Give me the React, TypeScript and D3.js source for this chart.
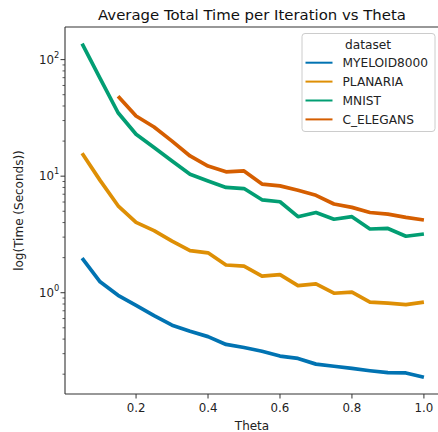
import React from "react";
import * as d3 from "d3";

const theta = [0.05, 0.1, 0.15, 0.2, 0.25, 0.3, 0.35, 0.4, 0.45, 0.5, 0.55, 0.6, 0.65, 0.7, 0.75, 0.8, 0.85, 0.9, 0.95, 1.0];
const myeloid = [1.98, 1.24, 0.95, 0.78, 0.635, 0.527, 0.467, 0.42, 0.36, 0.339, 0.315, 0.286, 0.273, 0.244, 0.234, 0.224, 0.214, 0.206, 0.205, 0.188];
const planaria = [15.7, 9.2, 5.57, 4.01, 3.41, 2.77, 2.3, 2.2, 1.73, 1.69, 1.39, 1.43, 1.15, 1.19, 0.99, 1.01, 0.83, 0.815, 0.79, 0.83];
const mnist = [137, 69, 35, 22.9, 17.6, 13.5, 10.4, 9.1, 8.0, 7.83, 6.27, 6.03, 4.49, 4.88, 4.27, 4.49, 3.52, 3.56, 3.05, 3.19];
const celegans = [null, null, 48.6, 32.8, 26.4, 20.0, 14.9, 12.2, 10.9, 11.1, 8.55, 8.26, 7.57, 6.85, 5.77, 5.4, 4.88, 4.73, 4.43, 4.21];
const seriesNames = ["MYELOID8000", "PLANARIA", "MNIST", "C_ELEGANS"];
const seriesColors = ["#0173b2", "#de8f05", "#029e73", "#d55e00"];
const xTicks = [0.2, 0.4, 0.6, 0.8, 1.0];
const yMajor = [1, 10, 100];

const W = 438, H = 432;
const L = 65, R = 441, T = 27, B = 394;
const FONT = "DejaVu Sans, sans-serif";

export default function App() {
  const all = [myeloid, planaria, mnist, celegans];
  const xmin = d3.min(theta)!, xmax = d3.max(theta)!;
  const xm = (xmax - xmin) * 0.05;
  const x = d3.scaleLinear().domain([xmin - xm, xmax + xm]).range([L, R]);
  const vals = all.flat().filter((v) => v != null) as number[];
  const lmin = Math.log10(d3.min(vals)!), lmax = Math.log10(d3.max(vals)!);
  const lm = (lmax - lmin) * 0.05;
  const y = d3.scaleLog().domain([10 ** (lmin - lm), 10 ** (lmax + lm)]).range([B, T]);
  const [d0, d1] = y.domain();
  const minor: number[] = [];
  for (let e = -2; e <= 3; e++) for (let k = 2; k <= 9; k++) {
    const v = k * 10 ** e;
    if (v >= d0 && v <= d1) minor.push(v);
  }
  const line = d3.line<[number, number | null]>()
    .defined((d) => d[1] != null)
    .x((d) => x(d[0]))
    .y((d) => y(d[1] as number));
  const ax = "#333";
  return (
    <svg width={W} height={H} style={{ position: "absolute", left: 0, top: 0 }} fontFamily={FONT}>
      <rect width={W} height={H} fill="white" />
      <text x={252} y={20} textAnchor="middle" fontSize={14.9} fill="#111">Average Total Time per Iteration vs Theta</text>
      {all.map((s, i) => (
        <path key={i} d={line(theta.map((t, j) => [t, s[j]] as [number, number | null])) || ""} fill="none" stroke={seriesColors[i]} strokeWidth={3.7} strokeLinejoin="round" strokeLinecap="butt" />
      ))}
      <line x1={L} x2={L} y1={T} y2={B} stroke={ax} strokeWidth={1.1} />
      <line x1={L} x2={R} y1={B} y2={B} stroke={ax} strokeWidth={1.1} />
      <line x1={L} x2={R} y1={T} y2={T} stroke={ax} strokeWidth={1.1} />
      <line x1={R} x2={R} y1={T} y2={B} stroke={ax} strokeWidth={1.1} />
      {xTicks.map((t) => (
        <g key={t}>
          <line x1={x(t)} x2={x(t)} y1={B} y2={B + 4.5} stroke={ax} strokeWidth={1} />
          <text x={x(t)} y={B + 18} textAnchor="middle" fontSize={11.8} fill="#222">{t.toFixed(1)}</text>
        </g>
      ))}
      {yMajor.map((t) => (
        <g key={t}>
          <line x1={L - 4.5} x2={L} y1={y(t)} y2={y(t)} stroke={ax} strokeWidth={1} />
          <text x={L - 11} y={y(t) + 4} textAnchor="end" fontSize={11.8} fill="#222">10</text>
          <text x={L - 11} y={y(t) - 2} textAnchor="start" fontSize={8.3} fill="#222">{Math.round(Math.log10(t))}</text>
        </g>
      ))}
      {minor.map((t) => (
        <line key={t} x1={L - 2.5} x2={L} y1={y(t)} y2={y(t)} stroke={ax} strokeWidth={0.8} />
      ))}
      <text x={252} y={430} textAnchor="middle" fontSize={12} fill="#222">Theta</text>
      <text transform={`translate(23,${(T + B) / 2}) rotate(-90)`} textAnchor="middle" fontSize={12} fill="#222">log(Time (Seconds))</text>
      <g>
        <rect x={302} y={33.5} width={133} height={98} rx={3} fill="white" fillOpacity={0.8} stroke="#ccc" strokeWidth={1} />
        <text x={368} y={48.5} textAnchor="middle" fontSize={12.2} fill="#222">dataset</text>
        {seriesNames.map((n, i) => (
          <g key={n}>
            <line x1={305.5} x2={332.5} y1={62.7 + i * 18.9} y2={62.7 + i * 18.9} stroke={seriesColors[i]} strokeWidth={2} />
            <text x={342.5} y={62.7 + i * 18.9 + 4.4} fontSize={12.2} fill="#222">{n}</text>
          </g>
        ))}
      </g>
    </svg>
  );
}
